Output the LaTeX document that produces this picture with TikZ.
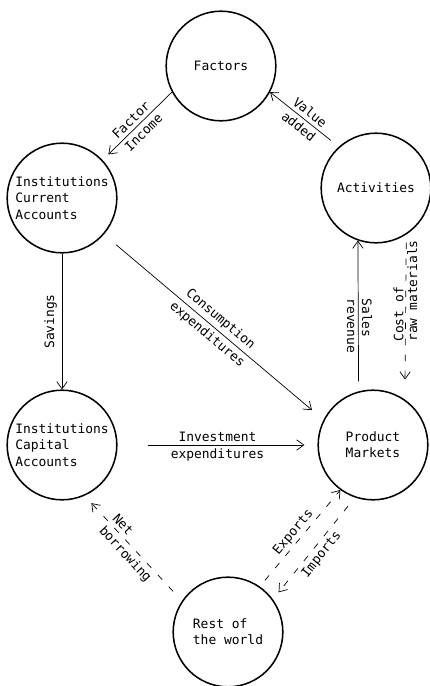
\documentclass[tikz,border=0pt]{standalone}
\usepackage{fontspec}
\setmonofont{DejaVu Sans Mono}
\usetikzlibrary{arrows.meta}

\begin{document}
\begin{tikzpicture}[
    x=0.025cm, y=-0.025cm,
    font=\ttfamily\fontsize{9.2}{11.5}\selectfont,
    % Define node styles
    sector/.style={circle, draw=black, line width=1.1pt, minimum size=2.74cm,
                   inner sep=0pt, align=left},
    flow/.style={-{Straight Barb[length=1.8mm, width=2.6mm]}, line width=0.5pt},
    dflow/.style={flow, dash pattern=on 1.6mm off 2.4mm},
    lbl/.style={sloped, inner sep=2.6pt}
]
    \useasboundingbox (0,0) rectangle (429,686);

    % Create nodes
    \node[sector] (factors) at (221,66) {Factors};
    \node[sector] (ica) at (62,198) {Institutions\\Current\\Accounts};
    \node[sector] (acts) at (376,188) {Activities};
    \node[sector] (icap) at (62,445) {Institutions\\Capital\\Accounts};
    \node[sector] (pm) at (373,445) {Product\\Markets};
    \node[sector] (row) at (228,632) {Rest of\\the world};

    % Draw arrows between nodes
    \draw[flow, shorten >=2mm] (factors.208)
        -- node[lbl, above] {Factor} node[lbl, below] {Income} (ica.43);
    \draw[flow, shorten <=2.5mm] (acts.132)
        -- node[lbl, above] {Value} node[lbl, below] {added} (factors.332);
    \draw[flow] (ica.south) -- node[rotate=90, anchor=south] {Savings} (icap.north);
    \draw[flow, shorten <=4mm, shorten >=3.75mm] (ica.-41.6)
        -- node[lbl, above] {Consumption} node[lbl, below] {expenditures} (pm.153);
    \draw[flow, shorten <=7.5mm, shorten >=3.25mm] (icap.east)
        -- node[lbl, above, inner sep=2pt] {Investment}
           node[lbl, below, inner sep=2pt] {expenditures} (icap.east -| pm.west);
    \draw[flow, shorten <=2.5mm] (pm.105.8)
        -- node[pos=0.64, rotate=-90, anchor=south west, inner sep=2.4pt] {Sales}
           node[pos=0.64, rotate=-90, anchor=north west, inner sep=2.4pt] {revenue} (acts.-109.5);
    \draw[dflow, shorten <=2mm, shorten >=5mm] (acts.-57)
        -- node[pos=0.66, rotate=90, anchor=south west, inner sep=1pt] {Cost of}
           node[pos=0.66, rotate=90, anchor=north west, inner sep=1pt] {raw materials} (pm.55);

    % Rest of the world
    \draw[dflow, shorten <=3.25mm, shorten >=2.5mm] (row.146)
        -- node[lbl, pos=0.78, anchor=south west] {Net}
           node[lbl, pos=0.78, anchor=north west] {borrowing} (icap.-66.6);
    \draw[dflow, shorten <=2mm] (row.55) -- node[lbl, above, inner sep=1.5pt] {Exports} (pm.234);
    \draw[dflow, shorten <=2.75mm, shorten >=2.25mm] (pm.251.6)
        -- node[lbl, below] {Imports} (row.36.5);
\end{tikzpicture}
\end{document}
